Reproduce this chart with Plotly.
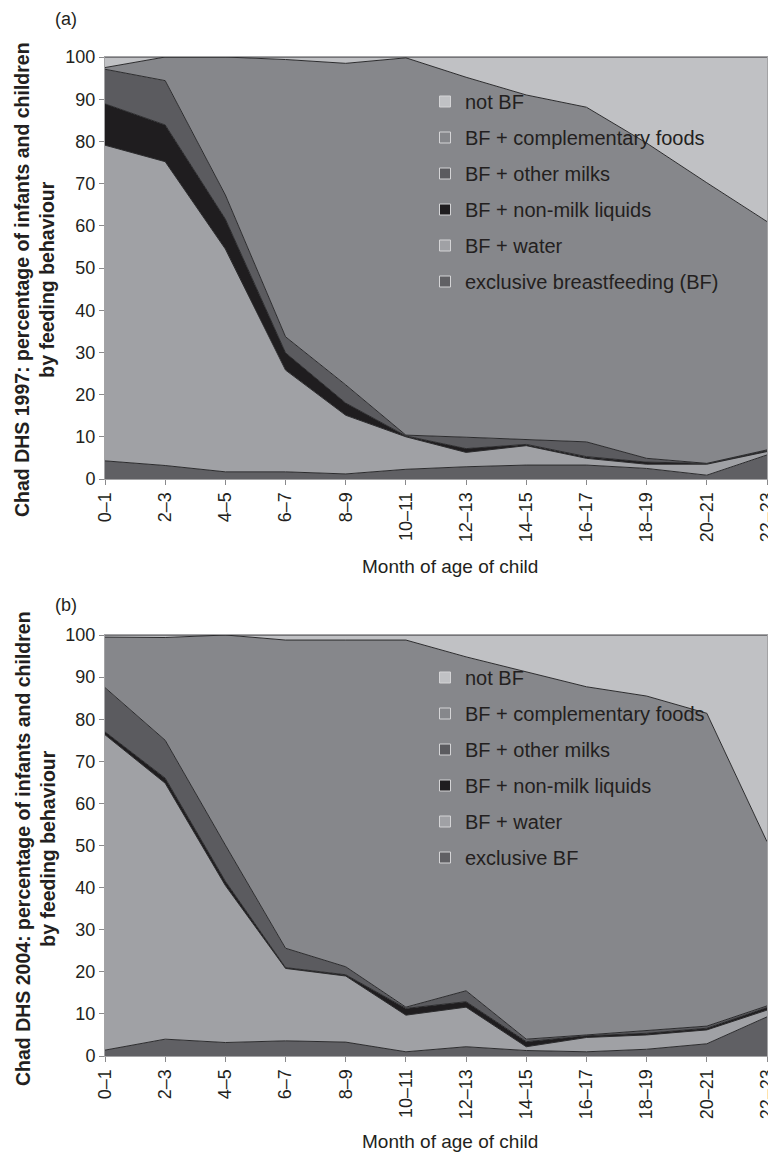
import plotly.graph_objects as go

# ---------------- data ----------------
months = ["0–1", "2–3", "4–5", "6–7", "8–9", "10–11", "12–13",
          "14–15", "16–17", "18–19", "20–21", "22–23"]

# Chad DHS 1997 (percent of children, stacked bottom -> top)
excl_1997 = [4.3, 3.2, 1.7, 1.7, 1.2, 2.3, 2.9, 3.3, 3.3, 2.5, 0.9, 5.7]
water_1997 = [74.8, 72.0, 52.8, 24.1, 13.9, 7.7, 3.4, 4.6, 1.6, 1.0, 2.6, 0.8]
nonmilk_1997 = [9.8, 8.7, 7.1, 4.1, 2.9, 0.2, 0.9, 0.3, 0.4, 0.5, 0.2, 0.2]
othermilk_1997 = [8.2, 10.5, 5.7, 3.8, 4.3, 0.2, 2.7, 1.1, 3.5, 0.9, 0.0, 0.2]
compl_1997 = [0.4, 5.6, 32.7, 65.7, 76.2, 89.4, 85.3, 81.7, 79.3, 74.7, 66.5, 54.1]
notbf_1997 = [2.5, 0.0, 0.0, 0.6, 1.5, 0.2, 4.8, 9.0, 11.9, 20.4, 29.8, 39.0]

# Chad DHS 2004
excl_2004 = [1.4, 4.0, 3.2, 3.6, 3.3, 1.0, 2.2, 1.3, 1.0, 1.6, 2.9, 9.3]
water_2004 = [74.9, 60.8, 37.3, 17.2, 15.7, 8.7, 9.4, 0.9, 3.4, 3.4, 3.3, 1.6]
nonmilk_2004 = [0.7, 1.2, 1.0, 0.2, 0.3, 1.6, 1.3, 1.2, 0.4, 0.4, 0.4, 0.6]
othermilk_2004 = [10.5, 9.0, 8.6, 4.6, 1.9, 0.3, 2.6, 0.6, 0.2, 0.6, 0.5, 0.4]
compl_2004 = [12.0, 24.4, 49.9, 73.2, 77.6, 87.2, 79.3, 87.2, 82.7, 79.5, 74.3, 39.0]
notbf_2004 = [0.5, 0.6, 0.0, 1.2, 1.2, 1.2, 5.2, 8.8, 12.3, 14.5, 18.6, 49.1]

y_ticks = [0, 10, 20, 30, 40, 50, 60, 70, 80, 90, 100]

names_1997 = ["exclusive breastfeeding (BF)", "BF + water", "BF + non-milk liquids",
              "BF + other milks", "BF + complementary foods", "not BF"]
names_2004 = ["exclusive BF", "BF + water", "BF + non-milk liquids",
              "BF + other milks", "BF + complementary foods", "not BF"]

colors = ["#606064", "#a0a1a5", "#1f1d1f", "#5b5b5f", "#86878b", "#c0c1c4"]

series_1997 = [excl_1997, water_1997, nonmilk_1997, othermilk_1997, compl_1997, notbf_1997]
series_2004 = [excl_2004, water_2004, nonmilk_2004, othermilk_2004, compl_2004, notbf_2004]

FONT = "Liberation Sans, Arial, sans-serif"
TXT = "#231f20"

# the page body adds an 8px margin; size the figure so it fills the window
OFF = 8
W, H = 776 - OFF, 1154 - OFF


def px(x):
    return (x - OFF) / W


def py(y):
    return 1 - (y - OFF) / H


fig = go.Figure()


def add_panel(series, names, xa, ya, sg, leg):
    for vals, col in zip(series, colors):
        fig.add_trace(go.Scatter(
            x=months, y=vals, stackgroup=sg, mode="lines",
            line=dict(color="#2b2b2d", width=1), fillcolor=col,
            xaxis=xa, yaxis=ya, showlegend=False, hoverinfo="skip"))
    # legend entries (top to bottom)
    for i, (nm, col) in enumerate(reversed(list(zip(names, colors)))):
        fig.add_trace(go.Scatter(
            x=[None], y=[None], mode="markers", name=nm,
            marker=dict(symbol="square", size=11, color=col,
                        line=dict(color="#d4d4d6", width=1)),
            xaxis=xa, yaxis=ya, legend=leg, legendgroup=f"{leg}_{i}",
            showlegend=True))


add_panel(series_1997, names_1997, "x", "y", "a", "legend")
add_panel(series_2004, names_2004, "x2", "y2", "b", "legend2")

xdom = [px(105), px(767)]
top_dom = [py(479), py(57)]
bot_dom = [py(1056), py(635)]

axis_common = dict(showline=True, mirror=True, linecolor="#a3a3a5", linewidth=1,
                   ticks="outside", ticklen=5, tickcolor="#8a8a8c", showgrid=False,
                   zeroline=False, automargin=False,
                   tickfont=dict(family=FONT, size=18, color=TXT))

xaxis_common = dict(axis_common, type="category", categoryorder="array",
                    categoryarray=months, range=[0, 11], tickangle=-90,
                    tickvals=months, ticktext=months, domain=xdom)
yaxis_common = dict(axis_common, range=[0, 100], tickvals=y_ticks)

legend_common = dict(font=dict(family=FONT, size=20, color=TXT),
                     bgcolor="rgba(0,0,0,0)", borderwidth=0,
                     traceorder="grouped", tracegroupgap=7,
                     xanchor="left", yanchor="top", itemclick=False)

fig.update_layout(
    width=W, height=H,
    margin=dict(l=0, r=0, t=0, b=0),
    paper_bgcolor="white", plot_bgcolor="white",
    font=dict(family=FONT, color=TXT),
    xaxis=dict(xaxis_common, anchor="y"),
    yaxis=dict(yaxis_common, domain=top_dom, anchor="x"),
    xaxis2=dict(xaxis_common, anchor="y2"),
    yaxis2=dict(yaxis_common, domain=bot_dom, anchor="x2"),
    legend=dict(legend_common, x=px(425), y=py(82)),
    legend2=dict(legend_common, x=px(425), y=py(658)),
)

ann = []
ytitle_1997 = "<b>Chad DHS 1997: percentage of infants and children<br>by feeding behaviour</b>"
ytitle_2004 = "<b>Chad DHS 2004: percentage of infants and children<br>by feeding behaviour</b>"
ann.append(dict(text=ytitle_1997, x=px(35), y=py(280), xref="paper", yref="paper",
                textangle=-90, showarrow=False, xanchor="center", yanchor="middle",
                font=dict(family=FONT, size=19.5, color=TXT)))
ann.append(dict(text=ytitle_2004, x=px(35), y=py(849), xref="paper", yref="paper",
                textangle=-90, showarrow=False, xanchor="center", yanchor="middle",
                font=dict(family=FONT, size=19.5, color=TXT)))
for yy in (566, 1141):
    ann.append(dict(text="Month of age of child", x=px(450), y=py(yy),
                    xref="paper", yref="paper", showarrow=False,
                    xanchor="center", yanchor="middle",
                    font=dict(family=FONT, size=19, color=TXT)))
ann.append(dict(text="(a)", x=px(53), y=py(19), xref="paper", yref="paper",
                showarrow=False, xanchor="left", yanchor="middle",
                font=dict(family=FONT, size=18, color=TXT)))
ann.append(dict(text="(b)", x=px(53), y=py(605), xref="paper", yref="paper",
                showarrow=False, xanchor="left", yanchor="middle",
                font=dict(family=FONT, size=18, color=TXT)))
fig.update_layout(annotations=ann)

fig.write_html("out.html")
